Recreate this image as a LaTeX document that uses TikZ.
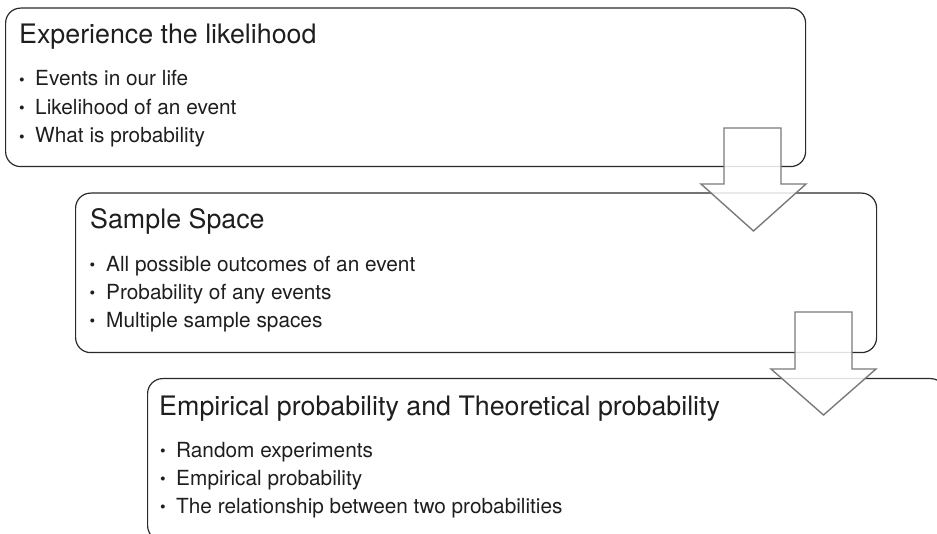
\documentclass[tikz,border=0pt]{standalone}
\usepackage{fontspec}
\setmainfont{TeX Gyre Heros}
\definecolor{boxline}{HTML}{2A2A2A}
\definecolor{arrowline}{HTML}{7A7A7A}
\definecolor{txt}{HTML}{1E1E1E}
\begin{document}
\begin{tikzpicture}[x=1pt,y=-1pt,
  box/.style={draw=boxline, line width=1.2pt, rounded corners=15pt, anchor=north west, inner sep=0pt},
  ttl/.style={anchor=base west, inner sep=0pt, font=\fontsize{26.8}{30}\selectfont, text=txt},
  itm/.style={anchor=base west, inner sep=0pt, font=\fontsize{20.8}{24}\selectfont, text=txt},
  bul/.style={anchor=base west, inner sep=0pt, font=\fontsize{16}{18}\selectfont, text=txt},
  blockarrow/.style={draw=arrowline, line width=1.4pt, fill=white, fill opacity=0.85, line join=miter}]
\useasboundingbox (0,0) rectangle (937,534);
\clip (0,0) rectangle (937,534);
% boxes
\node[box, minimum width=800pt, minimum height=158.5pt] (b1) at (5,7.5) {};
\node[box, minimum width=801pt, minimum height=159.5pt] (b2) at (75,192.5) {};
\node[box, minimum width=798pt, minimum height=162pt] (b3) at (147,378) {};
% box 1 text
\node[ttl] (t1) at (19,44) {Experience the likelihood};
\node[bul] (d11) at (19,85.5) {\textbullet};
\node[itm] (i11) at (35,86) {Events in our life};
\node[bul] (d12) at (19,114) {\textbullet};
\node[itm] (i12) at (35,114.5) {Likelihood of an event};
\node[bul] (d13) at (19,142.5) {\textbullet};
\node[itm] (i13) at (35,143) {What is probability};
% box 2 text
\node[ttl] (t2) at (90,228.5) {Sample Space};
\node[bul] (d21) at (89.5,271) {\textbullet};
\node[itm] (i21) at (106,271.5) {All possible outcomes of an event};
\node[bul] (d22) at (89.5,299) {\textbullet};
\node[itm] (i22) at (106,299.5) {Probability of any events};
\node[bul] (d23) at (89.5,327) {\textbullet};
\node[itm] (i23) at (106,327.5) {Multiple sample spaces};
% box 3 text
\node[ttl] (t3) at (159,415) {Empirical probability and Theoretical probability};
\node[bul] (d31) at (160,456.5) {\textbullet};
\node[itm] (i31) at (176,457) {Random experiments};
\node[bul] (d32) at (160,484.5) {\textbullet};
\node[itm] (i32) at (176,485) {Empirical probability};
\node[bul] (d33) at (160,512.5) {\textbullet};
\node[itm] (i33) at (176,513) {The relationship between two probabilities};
% block arrows
\draw[blockarrow] (724,128) -- (781,128) -- (781,184) -- (806,184) -- (753.5,231) -- (701,184) -- (724,184) -- cycle;
\draw[blockarrow] (795,312) -- (852,312) -- (852,369) -- (876,369) -- (823.5,415) -- (771,369) -- (795,369) -- cycle;
\end{tikzpicture}
\end{document}
